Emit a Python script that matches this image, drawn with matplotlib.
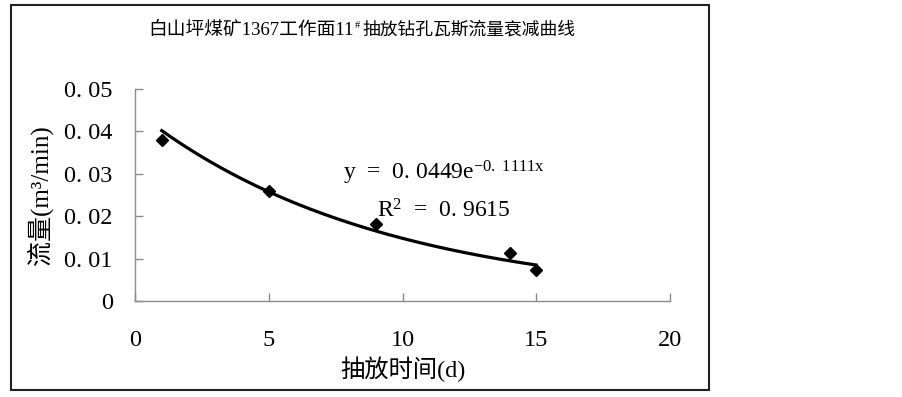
import numpy as np
import matplotlib
matplotlib.use("Agg")
import matplotlib.pyplot as plt
from matplotlib.patches import Rectangle

plt.rcParams["font.family"] = ["Liberation Serif", "Noto Sans CJK SC"]
plt.rcParams["mathtext.fontset"] = "custom"
plt.rcParams["mathtext.rm"] = "Liberation Serif"
plt.rcParams["mathtext.it"] = "Liberation Serif"

# measured points
days = [1, 5, 9, 14, 15]
flow = [0.038, 0.026, 0.0182, 0.0114, 0.0072]

# exponential trendline shown on the chart: y = a * exp(b x), R^2
fit_a = 0.0449
fit_b = -0.1111
fit_r2 = 0.9615

x_ticks = [0, 5, 10, 15, 20]
y_ticks = [0, 0.01, 0.02, 0.03, 0.04, 0.05]
y_ticklabels = ["0", "0. 01", "0. 02", "0. 03", "0. 04", "0. 05"]

fig = plt.figure(figsize=(9.03, 3.97), dpi=100)
fig.patch.set_facecolor("white")

# chart border
fig.add_artist(Rectangle((0.0122, 0.0176), 0.7730, 0.9694, transform=fig.transFigure,
                         fill=False, edgecolor="#222222", linewidth=1.5))

ax = fig.add_axes([0.1495, 0.2418, 0.5925, 0.5340])

ax.plot(days, flow, linestyle="none", marker="D", markersize=6.5, color="black", zorder=3)

xs = np.linspace(min(days), max(days), 200)
ax.plot(xs, fit_a * np.exp(fit_b * xs), color="black", linewidth=2.3)

ax.set_xlim(0, 20)
ax.set_ylim(0, 0.05)
ax.set_xticks(x_ticks)
ax.set_xticklabels([str(v) for v in x_ticks])
ax.set_yticks(y_ticks)
ax.set_yticklabels(y_ticklabels)

for side in ["top", "right"]:
    ax.spines[side].set_visible(False)
for side in ["left", "bottom"]:
    ax.spines[side].set_color("#8c8c8c")
    ax.spines[side].set_linewidth(1.0)

ax.tick_params(axis="both", direction="in", length=6, width=1.0, color="#8c8c8c",
               labelsize=17.5)
ax.tick_params(axis="y", pad=16)
ax.tick_params(axis="x", pad=21)

ax.set_xlabel("抽放时间(d)", fontsize=17.5, labelpad=4)
ax.set_ylabel("流量(m³/min)", fontsize=18, labelpad=8)

# equation and R^2
ax.text(11.55, 0.0302, r"y  =  0. 0449e$^{-0.\ 1111x}$", ha="center", va="center", fontsize=17)
ax.text(11.55, 0.0213, r"R$^{2}$  =  0. 9615", ha="center", va="center", fontsize=17)

# title with superscript '#'
t1 = fig.text(0.392, 0.924, "白山坪煤矿1367工作面11", ha="right", va="center", fontsize=13.5)
t2 = ax.annotate("#", xy=(1, 0.75), xycoords=t1, xytext=(0.5, 0), textcoords="offset points",
                 ha="left", va="center", fontsize=7.5)
ax.annotate("抽放钻孔瓦斯流量衰减曲线", xy=(1, 0.5), xycoords=t1, xytext=(6, 0),
            textcoords="offset points", ha="left", va="center", fontsize=12.8)

fig.savefig("out.png", dpi=100, facecolor="white")
